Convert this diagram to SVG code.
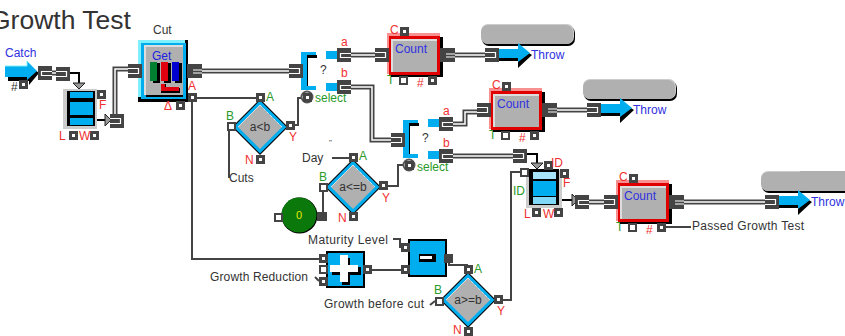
<svg xmlns="http://www.w3.org/2000/svg" width="845" height="336" viewBox="0 0 845 336">
<style>
text{font-family:"Liberation Sans",Arial,sans-serif;font-size:12px;fill:#333}
.t{fill:#3030e0;font-size:12px}
.r{fill:#f03030;font-size:12px}
.g{fill:#2a9a2a;font-size:12px}
.s{fill:none;stroke:#444;stroke-width:2}
.k{fill:none;stroke:#000;stroke-width:2}
.d1{fill:none;stroke:#444;stroke-width:5}
.d2{fill:none;stroke:#fff;stroke-width:1.5}
.w{fill:none;stroke:#fff;stroke-width:1.2}
.dk{fill:#444}
.bl{fill:#00aeef}
.gy{fill:#b0b0b0}
</style>
<defs>
<g id="pa"><rect width="9" height="9" class="dk"/><rect x="3" y="3" width="3" height="3" fill="#fff"/></g>
<g id="ph"><rect width="9" height="9" class="dk"/><rect x="2" y="2" width="5" height="5" fill="#fff"/></g>
<g id="po"><rect width="14" height="14" class="dk"/><path d="M14 5.500H3.500V9.500H14" class="w"/></g>
<g id="pi"><rect width="14" height="14" class="dk"/><path d="M0 4.500H10.500V9.500H0" class="w"/></g>
<g id="pr"><rect width="15" height="14" class="dk"/><path d="M15 6H6M15 9H6" class="w"/></g>
<g id="count">
<rect x="0" y="0" width="53" height="41" fill="#f89090"/>
<rect x="4" y="4" width="52" height="40" fill="#000"/>
<rect x="2" y="3" width="51" height="39" fill="#e00000"/>
<rect x="4" y="6" width="46" height="33" fill="#ddd"/>
<rect x="6" y="8" width="44" height="31" class="gy"/>
</g>
<g id="throw">
<path d="M0 10H20V4L34 13L20 26V19H0Z" fill="#000"/>
<path d="M0 7H20V1L32 11L20 20V16H0Z" class="bl"/>
</g>
<g id="lid">
<rect x="1" y="2" width="93" height="20" rx="7" fill="#000"/>
<rect width="93" height="20" rx="7" fill="#ccc"/>
<rect y="1" width="92" height="19" rx="7" class="gy"/>
</g>
<g id="diamond">
<path d="M0 -28L28 0L0 28L-28 0Z" fill="#000"/>
<path d="M0 -26.500L26.500 0L0 26.500L-26.500 0Z" class="bl"/>
<path d="M0 -22L22 0L0 22L-22 0Z" class="gy"/>
<path d="M-22 0L0 -22" fill="none" stroke="#ddd" stroke-width="1"/>
<path d="M0 -22L22 0" fill="none" stroke="#fff" stroke-width="1" stroke-dasharray="1 1"/>
</g>
<path id="tri" d="M-6 0H6L0 6Z" fill="#999" stroke="#222" stroke-width="1"/>
<path id="trir" d="M0 -6V6L6 0Z" fill="#999" stroke="#222" stroke-width="1"/>
</defs>

<rect width="845" height="336" fill="#fff"/>
<text id="title" x="-10" y="29" style="font-size:26.500px" fill="#111">Growth Test</text>

<g id="connectors">
<path class="d1" d="M52 73H56"/><path class="d2" d="M52 73H56"/>
<path class="d1" d="M115 116V69H130"/><path class="d2" d="M115 116V69H130"/>
<path class="d1" d="M200 71H291"/><path class="d2" d="M200 71H291"/>
<path class="d1" d="M351 55H376"/><path class="d2" d="M351 55H376"/>
<path class="d1" d="M350 87H372V140H392"/><path class="d2" d="M350 87H372V140H392"/>
<path class="d1" d="M454 55H486"/><path class="d2" d="M454 55H486"/>
<path class="d1" d="M452 124H465V112H478"/><path class="d2" d="M452 124H465V112H478"/>
<path class="d1" d="M452 156H514"/><path class="d2" d="M452 156H514"/>
<path class="d1" d="M556 110H588"/><path class="d2" d="M556 110H588"/>
<path class="d1" d="M589 202H605"/><path class="d2" d="M589 202H605"/>
<path class="d1" d="M683 202H766"/><path class="d2" d="M683 202H766"/>
<path class="k" d="M70 73H79V83"/>
<path class="k" d="M527 154H537V163"/>
<path class="k" d="M95 120H105"/>
<path class="k" d="M558 178V200H572"/>
<path class="s" d="M197 98H260"/>
<path class="s" d="M192 100V259H319"/>
<path class="s" d="M229 130V178"/>
<path class="s" d="M295 125H298V98H305"/>
<path class="s" d="M388 186H398V165H403"/>
<path class="s" d="M332 158H349"/>
<path class="s" d="M323 212V188"/>
<path class="s" d="M371 270H401"/>
<path class="s" d="M393 239H400V247H402"/>
<path class="s" d="M449 262V265H468"/>
<path class="s" d="M315 277L319 281"/>
<path class="s" d="M430 305L435 301"/>
<path class="s" d="M503 300H511V172H520"/>
<path class="s" d="M666 227H691"/>
</g>

<g id="catch">
<text x="5" y="57" class="t">Catch</text>
<path d="M8 70H30V66L39 73L29 85V81H8Z" fill="#000"/>
<path d="M5 66H27V61L37 71L27 80V77H5Z" class="bl"/>
<path d="M5 66H27V61" fill="none" stroke="#80f0ff"/>
<use href="#pa" x="19" y="80"/>
<text x="11" y="91">#</text>
<use href="#po" x="38" y="66"/>
<use href="#pi" x="56" y="67"/>
</g>

<g id="stack1">
<rect x="63" y="89" width="34" height="40" fill="#ccc"/>
<rect x="67" y="91" width="28" height="35" fill="#000"/>
<rect x="70" y="92" width="23" height="6" class="bl"/>
<rect x="70" y="102" width="23" height="13" class="bl"/>
<rect x="70" y="118" width="23" height="7" class="bl"/>
<use href="#tri" x="79" y="83"/>
<use href="#trir" x="105" y="120"/>
<use href="#pa" x="97" y="90"/>
<use href="#pa" x="69" y="131"/>
<use href="#pa" x="90" y="131"/>
<use href="#pi" x="110" y="114"/>
<text x="99" y="109" class="r">F</text>
<text x="59" y="140" class="r">L</text>
<text x="79" y="140" class="r">W</text>
</g>

<g id="cut">
<text x="153" y="34">Cut</text>
<rect x="138" y="40" width="50" height="62" fill="#000"/>
<rect x="138" y="40" width="47" height="57" fill="#80f0ff"/>
<rect x="141" y="43" width="45" height="56" class="bl"/>
<rect x="144" y="45" width="39" height="50" fill="#ddd"/>
<rect x="146" y="47" width="37" height="48" class="gy"/>
<rect x="146" y="95" width="37" height="2" fill="#000"/>
<text x="152" y="60" style="font-size:12px;fill:#2020e0">Get</text>
<path d="M153 63h7v20h-7zM164 63h7v20h-7zM175 63h7v20h-7z" fill="#000"/>
<rect x="150" y="62" width="7" height="19" fill="#008030"/>
<rect x="161" y="62" width="7" height="19" fill="#e00010"/>
<rect x="172" y="62" width="7" height="19" fill="#0000d0"/>
<path d="M161 84H166V88H180V93H161Z" fill="#000"/>
<path d="M161 84H165V87H179V91H161Z" fill="#e00010"/>
<use href="#pi" x="128" y="64"/>
<use href="#pr" x="187" y="64"/>
<use href="#pa" x="188" y="93"/>
<use href="#pa" x="176" y="101"/>
<text x="188" y="90" class="r">A</text>
<text x="164" y="110" class="r">Δ</text>
</g>

<g id="cmpAB">
<use href="#diamond" x="260" y="127"/>
<text x="260" y="131" text-anchor="middle">a&lt;b</text>
<use href="#pa" x="256" y="93"/>
<use href="#ph" x="227" y="122"/>
<use href="#pa" x="256" y="155"/>
<use href="#pa" x="286" y="121"/>
<text x="266" y="101" class="g">A</text>
<text x="226" y="120" class="g">B</text>
<text x="245" y="164" class="r">N</text>
<text x="289" y="141" class="r">Y</text>
<text x="229" y="182">Cuts</text>
</g>

<g id="switch1">
<path d="M304 55H317V58H308V88H304Z" fill="#000"/>
<path d="M301 52H316V55H307V86H316V90H301Z" class="bl"/>
<use href="#pi" x="289" y="64"/>
<text x="320" y="74">?</text>
<circle cx="307" cy="97" r="5.500" fill="#fff" stroke="#555" stroke-width="2"/>
<use href="#pa" x="303" y="93"/>
<text x="315" y="102" class="g">select</text>
<rect x="326" y="51" width="12" height="8" class="bl"/>
<rect x="326" y="83" width="12" height="8" class="bl"/>
<use href="#po" x="337" y="48"/>
<use href="#po" x="337" y="80"/>
<text x="341" y="46" class="r">a</text>
<text x="341" y="77" class="r">b</text>
</g>

<g id="count1">
<text x="387" y="84" class="g">T</text>
<use href="#count" x="387" y="33"/>
<text x="395" y="53" class="t">Count</text>
<use href="#pi" x="375" y="48"/>
<use href="#pr" x="440" y="48"/>
<use href="#pa" x="400" y="27"/>
<use href="#ph" x="399" y="76"/>
<use href="#pa" x="428" y="76"/>
<text x="390" y="34" class="r">C</text>
<text x="417" y="87" class="r">#</text>
</g>

<g id="throw1">
<use href="#lid" x="481" y="24"/>
<use href="#throw" x="498" y="42"/>
<use href="#pi" x="485" y="48"/>
<text x="531" y="59" class="t">Throw</text>
</g>

<g id="switch2">
<path d="M406 123H419V126H410V156H406Z" fill="#000"/>
<path d="M403 120H418V123H409V154H418V158H403Z" class="bl"/>
<use href="#pi" x="391" y="133"/>
<text x="422" y="142">?</text>
<circle cx="409" cy="165" r="5.500" fill="#fff" stroke="#555" stroke-width="2"/>
<use href="#pa" x="405" y="161"/>
<text x="417" y="171" class="g">select</text>
<rect x="428" y="119" width="12" height="8" class="bl"/>
<rect x="428" y="151" width="12" height="8" class="bl"/>
<use href="#po" x="439" y="117"/>
<use href="#po" x="439" y="149"/>
<text x="443" y="115" class="r">a</text>
<text x="443" y="147" class="r">b</text>
</g>

<g id="count2">
<text x="489" y="139" class="g">T</text>
<use href="#count" x="489" y="88"/>
<text x="497" y="108" class="t">Count</text>
<use href="#pi" x="477" y="103"/>
<use href="#pr" x="542" y="103"/>
<use href="#pa" x="502" y="82"/>
<use href="#ph" x="501" y="131"/>
<use href="#pa" x="530" y="131"/>
<text x="492" y="89" class="r">C</text>
<text x="519" y="142" class="r">#</text>
</g>

<g id="throw2">
<use href="#lid" x="583" y="79"/>
<use href="#throw" x="600" y="97"/>
<use href="#pi" x="587" y="103"/>
<text x="633" y="114" class="t">Throw</text>
</g>

<g id="cmpDay">
<use href="#diamond" x="353" y="187"/>
<text x="353" y="191" text-anchor="middle">a&lt;=b</text>
<use href="#pa" x="349" y="153"/>
<use href="#ph" x="319" y="183"/>
<use href="#pa" x="349" y="212"/>
<use href="#pa" x="379" y="181"/>
<text x="359" y="160" class="g">A</text>
<text x="319" y="181" class="g">B</text>
<text x="338" y="222" class="r">N</text>
<text x="382" y="202" class="r">Y</text>
<text x="302" y="162">Day</text>
<text x="329" y="145" style="font-size:8px">"</text>
</g>

<g id="zero">
<circle cx="299.500" cy="215.500" r="18" fill="#000"/>
<circle cx="299" cy="215" r="17.500" fill="#0a780a"/>
<text x="299" y="219" text-anchor="middle" style="font-size:11px;fill:#e6e600">0</text>
<use href="#ph" x="274" y="213"/>
<rect x="317" y="212" width="10" height="9" class="dk"/>
</g>

<g id="plus">
<rect x="326" y="251" width="39" height="37" fill="#000"/>
<rect x="328" y="253" width="35" height="33" class="bl"/>
<path d="M342 258H350V267H361V275H350V285H342V275H332V267H342Z" fill="#000"/>
<path d="M340 255H348V265H358V272H348V282H340V272H330V265H340Z" fill="#fff"/>
<use href="#pa" x="319" y="254"/>
<use href="#ph" x="319" y="265"/>
<use href="#pa" x="319" y="277"/>
<use href="#pa" x="363" y="265"/>
<text x="210" y="281" textLength="98">Growth Reduction</text>
</g>

<g id="minus">
<rect x="408" y="239" width="39" height="38" fill="#000"/>
<rect x="410" y="241" width="35" height="34" class="bl"/>
<rect x="419" y="254" width="17" height="8" fill="#000"/>
<rect x="420" y="256" width="12" height="3" fill="#fff"/>
<use href="#pa" x="401" y="243"/>
<use href="#pa" x="401" y="265"/>
<rect x="444" y="254" width="9" height="9" class="dk"/>
<text x="308" y="244" textLength="80">Maturity Level</text>
</g>

<g id="cmpGrowth">
<use href="#diamond" x="468" y="300"/>
<text x="468" y="304" text-anchor="middle">a&gt;=b</text>
<use href="#pa" x="464" y="265"/>
<use href="#ph" x="435" y="297"/>
<use href="#pa" x="464" y="327"/>
<use href="#pa" x="494" y="295"/>
<text x="474" y="273" class="g">A</text>
<text x="434" y="294" class="g">B</text>
<text x="453" y="334" class="r">N</text>
<text x="497" y="315" class="r">Y</text>
<text x="324" y="308" textLength="100">Growth before cut</text>
</g>

<g id="idstack">
<rect x="526" y="170" width="36" height="38" fill="#ccc"/>
<rect x="529" y="169" width="30" height="36" fill="#000"/>
<rect x="533" y="172" width="23" height="7" fill="#a6e2f8"/>
<rect x="533" y="181" width="23" height="15" class="bl"/>
<rect x="533" y="197" width="23" height="7" fill="#80d8f6"/>
<use href="#tri" x="537" y="163"/>
<use href="#trir" x="572" y="200"/>
<use href="#pa" x="544" y="161"/>
<use href="#pa" x="560" y="169"/>
<use href="#ph" x="520" y="168"/>
<use href="#pa" x="532" y="208"/>
<use href="#pa" x="554" y="208"/>
<use href="#pi" x="513" y="149"/>
<use href="#po" x="575" y="195"/>
<text x="551" y="167" class="r">ID</text>
<text x="563" y="187" class="r">F</text>
<text x="513" y="195" class="g">ID</text>
<text x="524" y="218" class="r">L</text>
<text x="543" y="218" class="r">W</text>
</g>

<g id="count3">
<text x="616" y="231" class="g">T</text>
<use href="#count" x="616" y="180"/>
<text x="624" y="200" class="t">Count</text>
<use href="#pi" x="604" y="195"/>
<use href="#pr" x="669" y="195"/>
<use href="#pa" x="629" y="174"/>
<use href="#ph" x="628" y="223"/>
<use href="#pa" x="657" y="223"/>
<text x="619" y="181" class="r">C</text>
<text x="646" y="234" class="r">#</text>
<text x="692" y="230" textLength="112">Passed Growth Test</text>
</g>

<g id="throw3">
<use href="#lid" x="761" y="171"/>
<rect x="800" y="171" width="45" height="20" class="gy"/>
<use href="#throw" x="778" y="189"/>
<use href="#pi" x="765" y="195"/>
<text x="811" y="206" class="t">Throw</text>
</g>
</svg>
